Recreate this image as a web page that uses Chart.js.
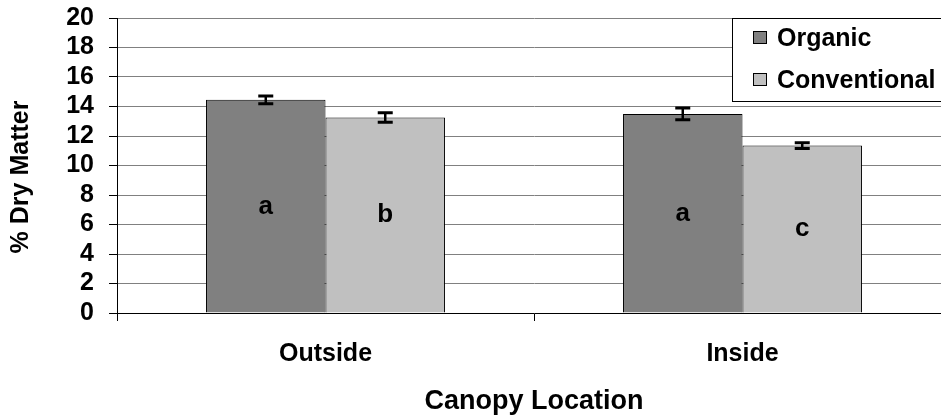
<!DOCTYPE html>
<html>
<head>
<meta charset="utf-8">
<script src="https://cdn.jsdelivr.net/npm/chart.js@4/dist/chart.umd.min.js"></script>
<style>
  html, body { margin: 0; padding: 0; background: #fff; overflow: hidden; }
  canvas { display: block; }
</style>
</head>
<body>
<canvas id="chart" width="951" height="415"></canvas>
<script>
// Dry matter (%) by canopy location, organic vs conventional, with standard errors
const categories = ['Outside', 'Inside'];
const organic = [14.45, 13.5];
const organicErr = [0.27, 0.4];
const conventional = [13.25, 11.35];
const conventionalErr = [0.32, 0.19];
// mean separation letters
const organicLetters = ['a', 'a'];
const conventionalLetters = ['b', 'c'];
const yMin = 0, yMax = 20, yStep = 2;
const yTitle = '% Dry Matter';
const xTitle = 'Canopy Location';

const FONT = 'Liberation Sans, Arial, sans-serif';
Chart.defaults.font.family = FONT;
Chart.defaults.font.weight = 'bold';
Chart.defaults.font.size = 25;
Chart.defaults.color = '#000';

// error bars drawn from each dataset's "errors" list
const errorBars = {
  id: 'errorBars',
  afterDatasetsDraw(chart) {
    const ctx = chart.ctx, y = chart.scales.y;
    chart.data.datasets.forEach((ds, d) => {
      const meta = chart.getDatasetMeta(d);
      meta.data.forEach((bar, i) => {
        const v = ds.data[i], e = ds.errors[i];
        const top = y.getPixelForValue(v + e), bot = y.getPixelForValue(v - e);
        const half = 7.5;
        ctx.save();
        ctx.strokeStyle = '#000';
        ctx.lineWidth = 2.5;
        ctx.beginPath();
        ctx.moveTo(bar.x, top); ctx.lineTo(bar.x, bot);
        ctx.stroke();
        ctx.lineWidth = 3;
        ctx.beginPath();
        ctx.moveTo(bar.x - half, top); ctx.lineTo(bar.x + half, top);
        ctx.moveTo(bar.x - half, bot); ctx.lineTo(bar.x + half, bot);
        ctx.stroke();
        ctx.restore();
      });
    });
  }
};

// letters written halfway up each bar
const barLetters = {
  id: 'barLetters',
  afterDatasetsDraw(chart) {
    const ctx = chart.ctx, y = chart.scales.y;
    chart.data.datasets.forEach((ds, d) => {
      const meta = chart.getDatasetMeta(d);
      meta.data.forEach((bar, i) => {
        ctx.save();
        ctx.fillStyle = '#000';
        ctx.font = 'bold 26px ' + FONT;
        ctx.textAlign = 'center';
        ctx.textBaseline = 'middle';
        ctx.fillText(ds.letters[i], bar.x, y.getPixelForValue(ds.data[i] / 2));
        ctx.restore();
      });
    });
  }
};

// boxed legend in the upper right corner and rotated y title
const decorations = {
  id: 'decorations',
  afterDraw(chart) {
    const ctx = chart.ctx;
    const area = chart.chartArea;
    ctx.save();
    // legend frame
    const bx = 732.5, by = Math.round(area.top) + 0.5, bh = 83;
    ctx.fillStyle = '#fff';
    ctx.fillRect(bx, by, chart.width - bx + 10, bh);
    ctx.strokeStyle = '#000';
    ctx.lineWidth = 1;
    ctx.strokeRect(bx, by, chart.width - bx + 10, bh);
    chart.data.datasets.forEach((ds, d) => {
      const cy = by + 19 + d * 42;
      ctx.fillStyle = ds.backgroundColor;
      ctx.fillRect(753.5, cy - 6, 13, 12);
      ctx.strokeRect(753.5, cy - 6, 13, 12);
      ctx.fillStyle = '#000';
      ctx.font = 'bold 25px ' + FONT;
      ctx.textAlign = 'left';
      ctx.textBaseline = 'middle';
      ctx.fillText(ds.label, 777, cy + 1.5);
    });
    // y axis title
    ctx.translate(21, 177);
    ctx.rotate(-Math.PI / 2);
    ctx.fillStyle = '#000';
    ctx.font = 'bold 25px ' + FONT;
    ctx.textAlign = 'center';
    ctx.textBaseline = 'middle';
    ctx.fillText(yTitle, 0, 0);
    ctx.restore();
  }
};

new Chart(document.getElementById('chart'), {
  type: 'bar',
  data: {
    labels: categories,
    datasets: [
      {
        label: 'Organic',
        data: organic,
        errors: organicErr,
        letters: organicLetters,
        backgroundColor: '#808080',
        borderColor: '#000',
        borderWidth: 1
      },
      {
        label: 'Conventional',
        data: conventional,
        errors: conventionalErr,
        letters: conventionalLetters,
        backgroundColor: '#c0c0c0',
        borderColor: '#000',
        borderWidth: 1
      }
    ]
  },
  options: {
    responsive: false,
    animation: false,
    layout: { padding: { top: 18, right: 0, left: 0, bottom: 0 } },
    categoryPercentage: 0.573,
    barPercentage: 1,
    plugins: {
      legend: { display: false },
      tooltip: { enabled: false }
    },
    scales: {
      x: {
        grid: {
          drawOnChartArea: false,
          offset: true,
          tickLength: 8,
          tickColor: '#000'
        },
        border: { color: '#000', width: 1 },
        ticks: { padding: 18, font: { size: 25, weight: 'bold' } },
        title: {
          display: true,
          text: xTitle,
          padding: { top: 0, bottom: 0 },
          font: { size: 27, weight: 'bold', lineHeight: 1.0 }
        },
        afterFit(scale) { scale.height = 102; scale.paddingLeft = 0; scale.paddingRight = 0; }
      },
      y: {
        min: yMin,
        max: yMax,
        ticks: { stepSize: yStep, autoSkip: false, padding: 15, font: { size: 25, weight: 'bold' } },
        grid: {
          color: '#808080',
          tickColor: '#000',
          tickLength: 8,
          lineWidth: 1
        },
        border: { color: '#000', width: 1 },
        afterFit(scale) { scale.width = 117; scale.paddingTop = 0; scale.paddingBottom = 0; }
      }
    }
  },
  plugins: [errorBars, barLetters, decorations]
});
</script>
</body>
</html>
